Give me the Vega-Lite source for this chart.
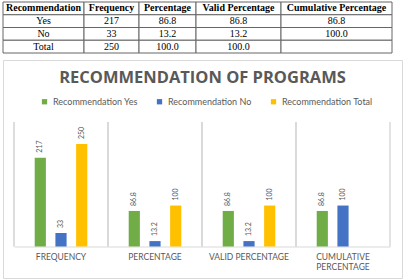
{
  "$schema": "https://vega.github.io/schema/vega-lite/v6.json",
  "padding": {"left": 2, "top": 1, "right": 0, "bottom": 0},
  "background": "white",
  "config": {
    "view": {"stroke": null},
    "axisY": {"disable": true},
    "axisX": {"offset": -31.5, "domain": true, "domainColor": "#d9d9d9", "ticks": false, "grid": false, "labelAngle": 0, "labelFont": "Lato", "labelFontSize": 8.5, "labelColor": "#595959", "labelPadding": 6, "labelBaseline": "top", "labelLineHeight": 10, "labelExpr": "datum.value == 'CUMULATIVE PERCENTAGE' ? ['CUMULATIVE', 'PERCENTAGE'] : datum.value"}
  },
  "datasets": {
    "table": [
      {"row": "header", "column": "Recommendation", "value": "Recommendation"},
      {"row": "header", "column": "Frequency", "value": "Frequency"},
      {"row": "header", "column": "Percentage", "value": "Percentage"},
      {"row": "header", "column": "Valid Percentage", "value": "Valid Percentage"},
      {"row": "header", "column": "Cumulative Percentage", "value": "Cumulative Percentage"},
      {"row": "Yes", "column": "Recommendation", "value": "Yes"},
      {"row": "Yes", "column": "Frequency", "value": "217"},
      {"row": "Yes", "column": "Percentage", "value": "86.8"},
      {"row": "Yes", "column": "Valid Percentage", "value": "86.8"},
      {"row": "Yes", "column": "Cumulative Percentage", "value": "86.8"},
      {"row": "No", "column": "Recommendation", "value": "No"},
      {"row": "No", "column": "Frequency", "value": "33"},
      {"row": "No", "column": "Percentage", "value": "13.2"},
      {"row": "No", "column": "Valid Percentage", "value": "13.2"},
      {"row": "No", "column": "Cumulative Percentage", "value": "100.0"},
      {"row": "Total", "column": "Recommendation", "value": "Total"},
      {"row": "Total", "column": "Frequency", "value": "250"},
      {"row": "Total", "column": "Percentage", "value": "100.0"},
      {"row": "Total", "column": "Valid Percentage", "value": "100.0"},
      {"row": "Total", "column": "Cumulative Percentage", "value": ""}
    ],
    "chart": [
      {"category": "FREQUENCY", "series": "Recommendation Yes", "value": 217},
      {"category": "FREQUENCY", "series": "Recommendation No", "value": 33},
      {"category": "FREQUENCY", "series": "Recommendation Total", "value": 250},
      {"category": "PERCENTAGE", "series": "Recommendation Yes", "value": 86.8},
      {"category": "PERCENTAGE", "series": "Recommendation No", "value": 13.2},
      {"category": "PERCENTAGE", "series": "Recommendation Total", "value": 100},
      {"category": "VALID PERCENTAGE", "series": "Recommendation Yes", "value": 86.8},
      {"category": "VALID PERCENTAGE", "series": "Recommendation No", "value": 13.2},
      {"category": "VALID PERCENTAGE", "series": "Recommendation Total", "value": 100},
      {"category": "CUMULATIVE PERCENTAGE", "series": "Recommendation Yes", "value": 86.8},
      {"category": "CUMULATIVE PERCENTAGE", "series": "Recommendation No", "value": 100}
    ]
  },
  "vconcat": [
    {
      "hconcat": [
        {
          "width": 81, "height": 51,
          "data": {"name": "table"},
          "transform": [{"filter": "datum.column == 'Recommendation'"}],
          "encoding": {
            "x": {"field": "column", "type": "nominal", "scale": {"paddingInner": 0, "paddingOuter": 0}, "axis": null},
            "y": {"field": "row", "type": "nominal", "scale": {"domain": ["header", "Yes", "No", "Total"], "paddingInner": 0, "paddingOuter": 0}, "axis": null},
            "text": {"field": "value", "type": "nominal"}
          },
          "layer": [
            {"mark": {"type": "rect", "fill": "white", "stroke": "#666666", "strokeWidth": 1}},
            {"mark": {"type": "text", "font": "Liberation Serif", "fontSize": 10, "color": "black"},
             "encoding": {"opacity": {"condition": {"test": "datum.row == 'header'", "value": 0}, "value": 1}}},
            {"mark": {"type": "text", "font": "Liberation Serif", "fontSize": 10, "fontWeight": "bold", "color": "black"},
             "encoding": {"opacity": {"condition": {"test": "datum.row == 'header'", "value": 1}, "value": 0}}}
          ]
        },
        {
          "width": 55, "height": 51,
          "data": {"name": "table"},
          "transform": [{"filter": "datum.column == 'Frequency'"}],
          "encoding": {
            "x": {"field": "column", "type": "nominal", "scale": {"paddingInner": 0, "paddingOuter": 0}, "axis": null},
            "y": {"field": "row", "type": "nominal", "scale": {"domain": ["header", "Yes", "No", "Total"], "paddingInner": 0, "paddingOuter": 0}, "axis": null},
            "text": {"field": "value", "type": "nominal"}
          },
          "layer": [
            {"mark": {"type": "rect", "fill": "white", "stroke": "#666666", "strokeWidth": 1}},
            {"mark": {"type": "text", "font": "Liberation Serif", "fontSize": 10, "color": "black"},
             "encoding": {"opacity": {"condition": {"test": "datum.row == 'header'", "value": 0}, "value": 1}}},
            {"mark": {"type": "text", "font": "Liberation Serif", "fontSize": 10, "fontWeight": "bold", "color": "black"},
             "encoding": {"opacity": {"condition": {"test": "datum.row == 'header'", "value": 1}, "value": 0}}}
          ]
        },
        {
          "width": 57, "height": 51,
          "data": {"name": "table"},
          "transform": [{"filter": "datum.column == 'Percentage'"}],
          "encoding": {
            "x": {"field": "column", "type": "nominal", "scale": {"paddingInner": 0, "paddingOuter": 0}, "axis": null},
            "y": {"field": "row", "type": "nominal", "scale": {"domain": ["header", "Yes", "No", "Total"], "paddingInner": 0, "paddingOuter": 0}, "axis": null},
            "text": {"field": "value", "type": "nominal"}
          },
          "layer": [
            {"mark": {"type": "rect", "fill": "white", "stroke": "#666666", "strokeWidth": 1}},
            {"mark": {"type": "text", "font": "Liberation Serif", "fontSize": 10, "color": "black"},
             "encoding": {"opacity": {"condition": {"test": "datum.row == 'header'", "value": 0}, "value": 1}}},
            {"mark": {"type": "text", "font": "Liberation Serif", "fontSize": 10, "fontWeight": "bold", "color": "black"},
             "encoding": {"opacity": {"condition": {"test": "datum.row == 'header'", "value": 1}, "value": 0}}}
          ]
        },
        {
          "width": 85, "height": 51,
          "data": {"name": "table"},
          "transform": [{"filter": "datum.column == 'Valid Percentage'"}],
          "encoding": {
            "x": {"field": "column", "type": "nominal", "scale": {"paddingInner": 0, "paddingOuter": 0}, "axis": null},
            "y": {"field": "row", "type": "nominal", "scale": {"domain": ["header", "Yes", "No", "Total"], "paddingInner": 0, "paddingOuter": 0}, "axis": null},
            "text": {"field": "value", "type": "nominal"}
          },
          "layer": [
            {"mark": {"type": "rect", "fill": "white", "stroke": "#666666", "strokeWidth": 1}},
            {"mark": {"type": "text", "font": "Liberation Serif", "fontSize": 10, "color": "black"},
             "encoding": {"opacity": {"condition": {"test": "datum.row == 'header'", "value": 0}, "value": 1}}},
            {"mark": {"type": "text", "font": "Liberation Serif", "fontSize": 10, "fontWeight": "bold", "color": "black"},
             "encoding": {"opacity": {"condition": {"test": "datum.row == 'header'", "value": 1}, "value": 0}}}
          ]
        },
        {
          "width": 111, "height": 51,
          "data": {"name": "table"},
          "transform": [{"filter": "datum.column == 'Cumulative Percentage'"}],
          "encoding": {
            "x": {"field": "column", "type": "nominal", "scale": {"paddingInner": 0, "paddingOuter": 0}, "axis": null},
            "y": {"field": "row", "type": "nominal", "scale": {"domain": ["header", "Yes", "No", "Total"], "paddingInner": 0, "paddingOuter": 0}, "axis": null},
            "text": {"field": "value", "type": "nominal"}
          },
          "layer": [
            {"mark": {"type": "rect", "fill": "white", "stroke": "#666666", "strokeWidth": 1}},
            {"mark": {"type": "text", "font": "Liberation Serif", "fontSize": 10, "color": "black"},
             "encoding": {"opacity": {"condition": {"test": "datum.row == 'header'", "value": 0}, "value": 1}}},
            {"mark": {"type": "text", "font": "Liberation Serif", "fontSize": 10, "fontWeight": "bold", "color": "black"},
             "encoding": {"opacity": {"condition": {"test": "datum.row == 'header'", "value": 1}, "value": 0}}}
          ]
        }
      ],
      "spacing": 0,
      "bounds": "flush"
    },
    {
      "width": 399,
      "height": 218,
      "view": {"stroke": "#d9d9d9", "strokeWidth": 1},
      "data": {"name": "chart"},
      "title": {"text": "RECOMMENDATION OF PROGRAMS", "font": "Open Sans", "fontSize": 16.5, "fontWeight": "bold", "color": "#595959", "anchor": "middle", "frame": "group", "offset": -26},
      "layer": [
        {
          "mark": {"type": "rule", "color": "#d9d9d9", "strokeWidth": 1},
          "encoding": {
            "x": {"field": "category", "type": "nominal", "bandPosition": 0, "title": null},
            "y": {"datum": 0, "type": "quantitative"},
            "y2": {"datum": 304}
          }
        },
        {
          "mark": {"type": "rule", "color": "#d9d9d9", "strokeWidth": 1},
          "encoding": {
            "x": {"field": "category", "type": "nominal", "bandPosition": 1, "title": null},
            "y": {"datum": 0, "type": "quantitative"},
            "y2": {"datum": 304}
          }
        },
        {
          "mark": {"type": "bar"},
          "encoding": {
            "x": {
              "field": "category", "type": "nominal", "sort": null, "title": null,
              "scale": {"domain": ["FREQUENCY", "PERCENTAGE", "VALID PERCENTAGE", "CUMULATIVE PERCENTAGE"], "range": [11, 387], "paddingInner": 0, "paddingOuter": 0}
            },
            "xOffset": {"field": "series", "type": "nominal", "scale": {"domain": ["Recommendation Yes", "Recommendation No", "Recommendation Total"], "paddingInner": 0.46, "paddingOuter": 1.14}},
            "y": {"field": "value", "type": "quantitative", "scale": {"domain": [0, 304], "range": [186.5, 62], "nice": false, "zero": true}},
            "color": {
              "field": "series", "type": "nominal",
              "scale": {"domain": ["Recommendation Yes", "Recommendation No", "Recommendation Total"], "range": ["#70AD47", "#4472C4", "#FFC000"]},
              "legend": {"orient": "none", "legendX": 37, "legendY": 95, "direction": "horizontal", "title": null, "symbolType": "square", "symbolSize": 28, "symbolStrokeWidth": 0, "labelFont": "Lato", "labelFontSize": 9, "labelColor": "#595959", "columnPadding": 17, "labelOffset": 4}
            }
          }
        },
        {
          "mark": {"type": "text", "angle": -90, "align": "left", "baseline": "middle", "dx": 5, "font": "Lato", "fontSize": 7, "color": "#595959"},
          "encoding": {
            "x": {"field": "category", "type": "nominal", "sort": null, "title": null},
            "xOffset": {"field": "series", "type": "nominal"},
            "y": {"field": "value", "type": "quantitative"},
            "text": {"field": "value", "type": "nominal"}
          }
        }
      ]
    }
  ],
  "spacing": 5
}
